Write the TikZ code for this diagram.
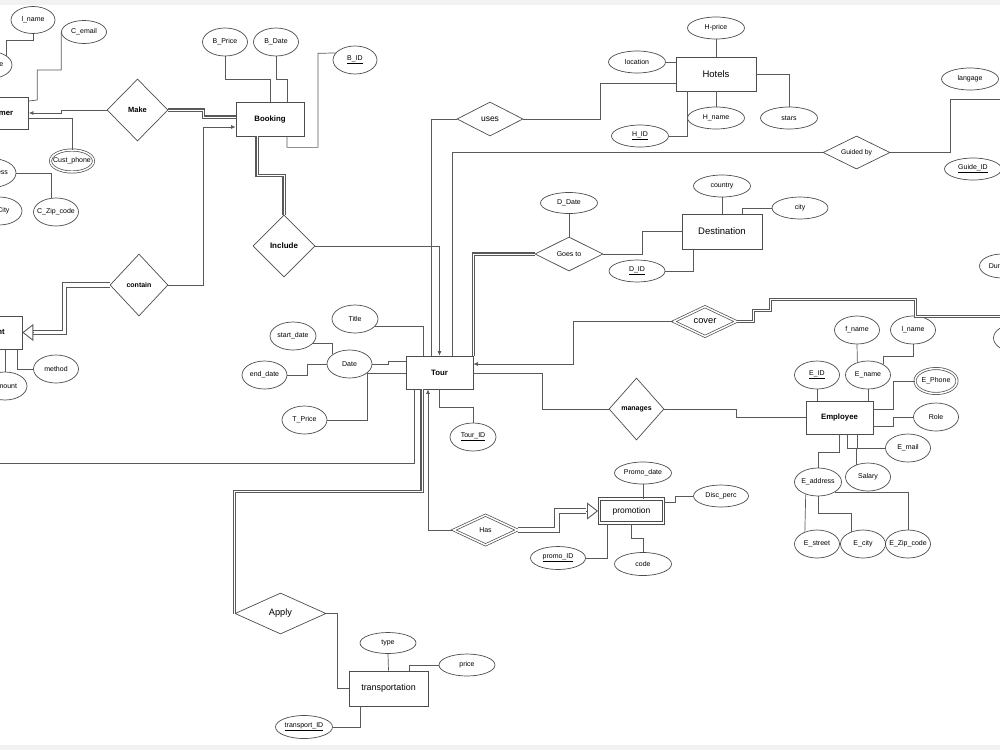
\documentclass[tikz,border=0pt]{standalone}
\usepackage{fontspec}
\setmainfont{Liberation Sans}
\usetikzlibrary{shapes.geometric,arrows.meta,calc}
\newcommand{\centred}[1]{\makebox[0pt]{#1}}

\begin{document}
\begin{tikzpicture}[x=1pt,y=-1pt,
    link/.style={draw=black!65, line width=0.7pt},
    arr/.style={link, -{Latex[length=4.5pt,width=4pt]}},
    dbl/.style={link, line width=1.1pt, double, double distance=0.9pt},
    widelink/.style={link, line width=1.1pt, double, double distance=3.4pt},
    openarr/.style={link, line width=0.9pt, -{Triangle[open,length=11pt,width=17pt]}},
    mval/.style={double, double distance=1.5pt},
    ent/.style={draw=black!70, line width=0.7pt, rectangle, minimum width=67, minimum height=33,
        inner sep=0, font=\bfseries\fontsize{7.8}{9}\selectfont},
    bigent/.style={ent, font=\fontsize{9.5}{11}\selectfont},
    attr/.style={draw=black!70, line width=0.7pt, ellipse, minimum width=57, minimum height=22,
        inner sep=0, font=\fontsize{7}{8}\selectfont},
    eattr/.style={attr, minimum width=45, minimum height=28},
    rel/.style={draw=black!70, line width=0.7pt, diamond, aspect=2, inner sep=0,
        font=\fontsize{7}{8}\selectfont},
    brel/.style={rel, font=\bfseries\fontsize{7.5}{9}\selectfont},
  ]
    \useasboundingbox (0,0) rectangle (1000,750);
    \clip (0,0) rectangle (1000,750);
    \fill[black!5] (0,0) rectangle (1000,5);
    \fill[black!5] (0,745) rectangle (1000,750);

    % entities
    \node[ent, minimum height=32] (customer) at (-5,113) {Customer};
    \node[ent, minimum width=68, minimum height=34] (booking) at (270,119) {Booking};
    \node[bigent, minimum width=80, minimum height=34] (hotels) at (716,74) {Hotels};
    \node[bigent, minimum width=80, minimum height=35] (dest) at (722,231.5) {Destination};
    \node[ent] (tour) at (439.5,372.5) {Tour};
    \node[ent] (employee) at (839.5,417.5) {Employee};
    \node[ent] (payment) at (-11.5,332.5) {Payment};
    \node[bigent, line width=1pt, double, double distance=1.9pt, minimum width=64, minimum height=24,
        font=\fontsize{8.5}{10}\selectfont] (promo) at (631.5,511) {promotion};
    \node[bigent, minimum width=79, minimum height=35, font=\fontsize{8.9}{10}\selectfont]
        (transport) at (388.5,688.5) {transportation};

    % relationships
    \node[brel, minimum width=61, minimum height=62] (make) at (137.5,110) {Make};
    \node[brel, minimum width=62, minimum height=62, font=\bfseries\fontsize{8}{9}\selectfont]
        (include) at (284,246) {Include};
    \node[brel, minimum width=58, minimum height=62, font=\bfseries\fontsize{7}{8}\selectfont]
        (contain) at (139,285) {contain};
    \node[brel, minimum width=55, minimum height=62, font=\bfseries\fontsize{7}{8}\selectfont]
        (manages) at (636.5,409) {manages};
    \node[rel, minimum width=66, minimum height=34, font=\fontsize{8.5}{10}\selectfont]
        (uses) at (490,119) {uses};
    \node[rel, minimum width=67, minimum height=33, font=\fontsize{6.8}{8}\selectfont]
        (guided) at (856.5,152.5) {Guided by};
    \node[rel, minimum width=68, minimum height=34] (goes) at (569,254) {Goes to};
    \node[rel, double, double distance=1.5pt, minimum width=63, minimum height=30,
        font=\fontsize{9.3}{11}\selectfont] (cover) at (705,321.5) {cover};
    \node[rel, double, double distance=1.5pt, minimum width=64, minimum height=30]
        (has) at (485.5,530) {Has};
    \node[rel, minimum width=91, minimum height=41, font=\fontsize{9.2}{11}\selectfont]
        (apply) at (280.5,613.5) {Apply};

    % customer and payment attributes
    \node[eattr, minimum width=44, minimum height=27] (clname) at (33,20) {\centred{l\_name}};
    \node[eattr, minimum width=44, minimum height=27] (cname) at (-10,65) {\centred{C\_name}};
    \node[attr, minimum width=45, minimum height=23] (cemail) at (84,32) {\centred{C\_email}};
    \node[attr, mval, minimum width=43, minimum height=22] (cphone) at (72,161) {\centred{Cust\_phone}};
    \node[eattr, minimum width=50, minimum height=29] (caddress) at (-9,173) {\centred{C\_address}};
    \node[eattr] (czip) at (56,212) {\centred{C\_Zip\_code}};
    \node[eattr, minimum width=46] (ccity) at (-1,211) {\centred{C\_City}};
    \node[eattr] (method) at (56,369) {\centred{method}};
    \node[eattr, minimum width=44] (amount) at (5,386) {\centred{Amount}};

    % booking and tour attributes
    \node[eattr] (bprice) at (225,42) {\centred{B\_Price}};
    \node[eattr] (bdate) at (276,42) {\centred{B\_Date}};
    \node[eattr, minimum width=44] (bid) at (355,60) {\centred{\underline{B\_ID}}};
    \node[eattr, minimum width=46] (title) at (355,319) {\centred{Title}};
    \node[eattr] (date) at (349.5,364) {\centred{Date}};
    \node[eattr, minimum width=46] (startd) at (293,336) {\centred{start\_date}};
    \node[eattr] (endd) at (264.5,375) {\centred{end\_date}};
    \node[eattr] (tprice) at (304.5,420) {\centred{T\_Price}};
    \node[eattr, minimum width=46] (tourid) at (473,437) {\centred{\underline{Tour\_ID}}};

    % hotels, destination, guide attributes
    \node[attr] (hprice) at (716,28) {\centred{H-price}};
    \node[attr] (location) at (637,62) {\centred{location}};
    \node[attr] (hname) at (716,118) {\centred{H\_name}};
    \node[attr] (stars) at (789,118) {\centred{stars}};
    \node[attr] (hid) at (640,136) {\centred{\underline{H\_ID}}};
    \node[attr] (country) at (722,186) {\centred{country}};
    \node[attr, minimum width=56] (city) at (800,208) {\centred{city}};
    \node[attr, minimum width=56] (did) at (637,271) {\centred{\underline{D\_ID}}};
    \node[attr, minimum height=21] (ddate) at (569,203) {\centred{D\_Date}};
    \node[attr] (langage) at (970,79) {\centred{langage}};
    \node[attr] (guideid) at (973,169) {\centred{\underline{Guide\_ID}}};
    \node[attr, minimum width=45, minimum height=24] (duration) at (1002,266) {\centred{Duration}};
    \node[eattr] (gextra) at (1016,338) {};
    \coordinate (guide) at (1010,99);
    \coordinate (guidecov) at (1010,316.5);

    % employee attributes
    \node[eattr] (fname) at (857,330) {\centred{f\_name}};
    \node[eattr] (elname) at (913,330) {\centred{l\_name}};
    \node[eattr] (eid) at (817,375) {\centred{\underline{E\_ID}}};
    \node[eattr] (ename) at (868,375) {\centred{E\_name}};
    \node[eattr, mval, minimum width=42, minimum height=25] (ephone) at (936,381) {\centred{E\_Phone}};
    \node[eattr] (role) at (936,417) {\centred{Role}};
    \node[eattr] (email) at (908,448) {\centred{E\_mail}};
    \node[eattr] (salary) at (868,477) {\centred{Salary}};
    \node[eattr, minimum width=47] (eaddress) at (818,482) {\centred{E\_address}};
    \node[eattr] (estreet) at (817,544) {\centred{E\_street}};
    \node[eattr] (ecity) at (863,544) {\centred{E\_city}};
    \node[eattr] (ezip) at (908,544) {\centred{E\_Zip\_code}};

    % promotion and transportation attributes
    \node[attr] (promodate) at (643,473) {\centred{Promo\_date}};
    \node[attr, minimum width=55] (discperc) at (721,496) {\centred{Disc\_perc}};
    \node[attr, minimum height=23] (code) at (643,564) {\centred{code}};
    \node[attr, minimum width=55, minimum height=23] (promoid) at (558,558) {\centred{\underline{promo\_ID}}};
    \node[attr, minimum width=56, minimum height=21] (type) at (388,643) {\centred{type}};
    \node[attr, minimum width=56] (price) at (467,665) {\centred{price}};
    \node[attr, minimum height=23] (transid) at (304,727) {\centred{\underline{transport\_ID}}};

    % customer side
    \draw[link] (clname.south) -- ++(0,6) -| (cname.30);
    \draw[link] (cemail.west) -- ++(0,38) -| ++(-24,30) -- (customer.east |- 0,101);
    \draw[arr] (make.west) -- ++(-45,0) |- (customer.east);
    \draw[link] (customer.east |- 0,118) -| (cphone.north);
    \draw[link] (caddress.east) -| (czip.110);
    \draw[dbl] (make.east) -- ++(35,0) |- ($(booking.west)+(0,-2)$);
    \draw[arr] (contain.east) -- ++(35,0) |- ($(booking.west)+(0,8)$);
    \draw[widelink] (contain.west) -- ++(-45,0) |- ($(payment.east)+(11,0)$);
    \draw[openarr] ($(payment.east)+(11,0)$) -- (payment.east);
    \draw[link] ($(payment.south)+(28.5,0)$) |- (method.west);
    \draw[link] ($(payment.south)+(16.5,0)$) -- (amount.north);

    % booking
    \draw[link] (bprice.south) -- ++(0,23) -| (booking.north);
    \draw[link] (bdate.south) -- ++(0,23) -| ($(booking.north)+(17,0)$);
    \draw[link] ($(booking.south)+(17,0)$) -- ++(0,11) -| ++(31,-94) -- (bid.160);
    \draw[dbl] ($(booking.south)+(-13,0)$) -- ++(0,39) -| (include.north);
    \draw[arr] (include.east) -| (tour.north);

    % tour
    \draw[link] (title.340) -| ($(tour.north)+(-16.5,0)$);
    \draw[link] (date.east) -- ++(16,0) |- ($(tour.west)+(0,-11)$);
    \draw[link] (startd.340) -| (date.150);
    \draw[link] (endd.east) -- ++(20,0) |- (date.west);
    \draw[link] (tprice.east) -- ++(40,0) |- ($(tour.west)+(0,0.5)$);
    \draw[link] (tour.south) -- ++(0,18) -| (tourid.north);
    \draw[link] ($(tour.south)+(-25.5,0)$) |- ($(payment.west)+(-20,130.5)$) |- (payment.west);
    \draw[link] ($(tour.north)+(-8.5,0)$) |- (uses.west);
    \draw[link] (uses.east) -- ++(77,0) |- ($(hotels.west)+(0,9)$);
    \draw[link] ($(tour.north)+(12.5,0)$) |- (guided.west);
    \draw[link] (guided.east) -- ++(60,0) |- (guide);
    \draw[dbl] (goes.west) -| (tour.north east);
    \draw[link] (goes.east) -- ++(39,0) |- (dest.west);
    \draw[arr] (cover.west) -- ++(-100,0) |- ($(tour.east)+(0,-8.5)$);
    \draw[dbl] (cover.east) -- ++(17,0) -- ++(0,-11) -- ++(17,0) -- ++(0,-11) -- ++(145,0) |- (guidecov);
    \draw[link] ($(tour.east)+(0,0.5)$) -- ++(69,0) |- (manages.west);
    \draw[link] (manages.east) -- ++(72,0) |- (employee.west);
    \draw[dbl] ($(tour.south)+(-17.5,0)$) -- ++(0,102) -| (apply.west);
    \draw[link] (apply.east) -- ++(11,0) |- (transport.west);
    \draw[arr] (has.west) -| ($(tour.south)+(-11.5,0)$);
    \draw[widelink] (has.east) -- ++(39,0) |- ($(promo.west)+(-13,0)$);
    \draw[openarr] ($(promo.west)+(-13,0)$) -- ($(promo.west)+(-1,0)$);

    % hotels and destination
    \draw[link] (hprice.south) -- (hotels.north);
    \draw[link] (location.east) -- (hotels.west |- location.east);
    \draw[link] (hotels.south) -- (hname.north);
    \draw[link] (hotels.east) -| (stars.north);
    \draw[link] (hid.east) -| ($(hotels.south)+(-29,0)$);
    \draw[link] (ddate.south) -- (goes.north);
    \draw[link] (did.east) -| ($(dest.south)+(-29,0)$);
    \draw[link] (country.south) -- (dest.north);
    \draw[link] ($(dest.north)+(20,0)$) |- (city.west);

    % employee
    \draw[link] (fname.south) -- (ename.130);
    \draw[link] (elname.south) -- ++(0,12) -| (ename.35);
    \draw[link] (eid.south) -- (employee.north -| eid.south);
    \draw[link] (ename.south) -- (employee.north -| ename.south);
    \draw[link] ($(employee.east)+(0,-8.5)$) -- ++(20,0) |- (ephone.west);
    \draw[link] ($(employee.east)+(0,8.5)$) -- ++(20,0) |- (role.west);
    \draw[link] ($(employee.south)+(17.5,0)$) |- (email.west);
    \draw[link] ($(employee.south)+(7.5,0)$) -- ++(0,14) -| (salary.135);
    \draw[link] (employee.south) -- ++(0,18) -| (eaddress.north);
    \draw[link] (eaddress.225) -- (estreet.135);
    \draw[link] (eaddress.south) -- ++(0,17) -| (ecity.135);
    \draw[link] (eaddress.330) -| (ezip.north);

    % promotion and transportation
    \draw[link] (promodate.south) -- (promodate.south |- promo.north);
    \draw[link] (code.north) -- ++(0,-14) -| (promo.south);
    \draw[link] (promoid.east) -| ($(promo.south)+(-24.5,0)$);
    \draw[link] ($(promo.east)+(0,-9)$) -- ++(11,0) |- (discperc.west);
    \draw[link] (type.south) -- (transport.north);
    \draw[link] ($(transport.north)+(20.5,0)$) |- (price.west);
    \draw[link] (transid.east) -| ($(transport.south)+(-28.5,0)$);
\end{tikzpicture}
\end{document}
